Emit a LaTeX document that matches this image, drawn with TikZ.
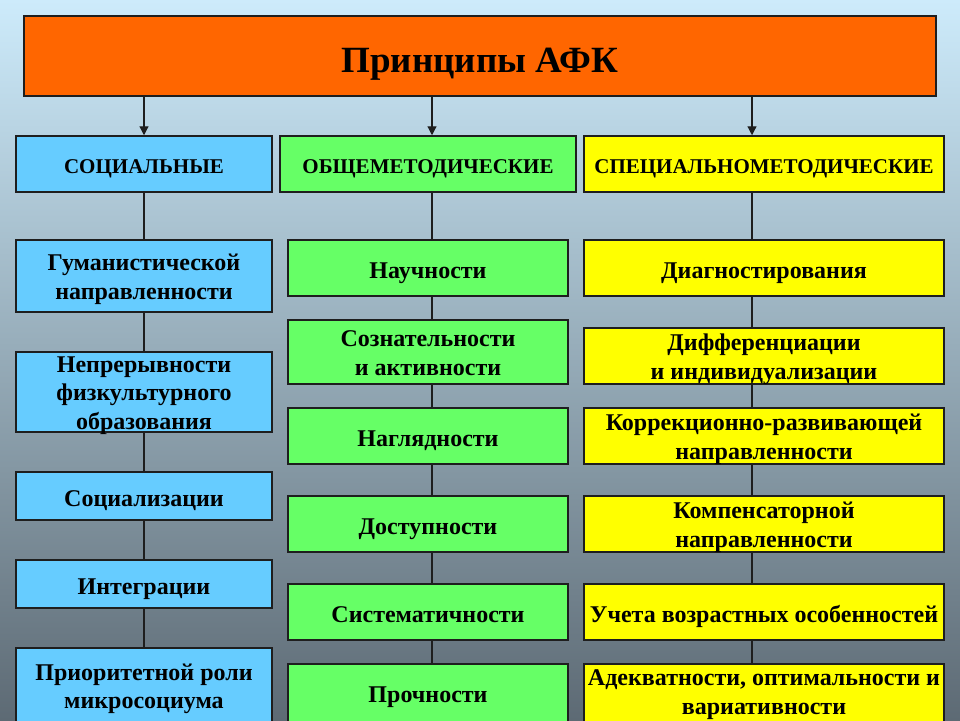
\documentclass[tikz,border=0pt]{standalone}
\usepackage{fontspec}
\setmainfont{Liberation Serif}
\usetikzlibrary{arrows.meta}
\definecolor{bt}{HTML}{CDEBFB}
\definecolor{bm}{HTML}{A8BBC7}
\definecolor{bb}{HTML}{5D6A74}
\definecolor{or}{HTML}{FF6600}
\definecolor{bl}{HTML}{66CCFF}
\definecolor{gr}{HTML}{66FF66}
\definecolor{ye}{HTML}{FFFF00}
\definecolor{ln}{HTML}{1E1E1E}

\begin{document}
\begin{tikzpicture}[x=1pt, y=-1pt,
  box/.style = {draw=ln, line width=1.5pt, align=center, inner sep=0pt, text depth=-6pt,
                font=\bfseries\fontsize{24}{28.5}\selectfont},
  one/.style = {text height=21pt, text depth=0pt},
  two/.style = {text height=46pt, text depth=0pt},
  head/.style = {box, minimum height=56pt, text height=18pt, text depth=0pt,
                 font=\bfseries\fontsize{21}{25}\selectfont},
  soc/.style = {box, fill=bl, minimum width=256pt},
  gen/.style = {box, fill=gr, minimum width=280pt},
  spc/.style = {box, fill=ye, minimum width=360pt},
  wire/.style = {draw=ln, line width=1.2pt}]

  \useasboundingbox (0,0) rectangle (960,720);
  \clip (0,0) rectangle (960,720);
  \shade[top color=bt, middle color=bm, bottom color=bb] (0,0) rectangle (960,720);

  % column axes
  \coordinate (cs) at (144,0);
  \coordinate (cm) at (432,0);
  \coordinate (cr) at (752,0);

  % title
  \node[box, fill=or, minimum width=912pt, minimum height=80pt, text height=32pt, text depth=0pt,
        font=\bfseries\fontsize{37}{40}\selectfont] (title) at (480,56) {Принципы АФК};

  % headers
  \node[head, fill=bl, minimum width=256pt] (hs) at (144,164) {СОЦИАЛЬНЫЕ};
  \node[head, fill=gr, minimum width=296pt] (hm) at (428,164) {ОБЩЕМЕТОДИЧЕСКИЕ};
  \node[head, fill=ye, minimum width=360pt] (hr) at (764,164) {СПЕЦИАЛЬНОМЕТОДИЧЕСКИЕ};

  % social
  \node[soc, two, minimum height=72pt] (s1) at (144,276) {Гуманистической\\направленности};
  \node[soc, minimum height=80pt, text height=74pt, text depth=0pt] (s2) at (144,392) {Непрерывности\\физкультурного\\образования};
  \node[soc, one, minimum height=48pt] (s3) at (144,496) {Социализации};
  \node[soc, one, minimum height=48pt] (s4) at (144,584) {Интеграции};
  \node[soc, minimum height=78pt, text depth=2pt] (s5) at (144,687) {Приоритетной роли\\микросоциума};

  % general
  \node[gen, one, minimum height=56pt] (m1) at (428,268) {Научности};
  \node[gen, two, minimum height=64pt] (m2) at (428,352) {Сознательности\\и активности};
  \node[gen, one, minimum height=56pt] (m3) at (428,436) {Наглядности};
  \node[gen, one, minimum height=56pt] (m4) at (428,524) {Доступности};
  \node[gen, one, minimum height=56pt] (m5) at (428,612) {Систематичности};
  \node[gen, minimum height=62pt, text height=20pt, text depth=6pt] (m6) at (428,695) {Прочности};

  % special
  \node[spc, one, minimum height=56pt] (r1) at (764,268) {Диагностирования};
  \node[spc, two, minimum height=56pt] (r2) at (764,356) {Дифференциации\\и индивидуализации};
  \node[spc, two, minimum height=56pt] (r3) at (764,436) {Коррекционно-развивающей\\направленности};
  \node[spc, two, minimum height=56pt] (r4) at (764,524) {Компенсаторной\\направленности};
  \node[spc, one, minimum height=56pt] (r5) at (764,612) {Учета возрастных особенностей};
  \node[spc, minimum height=62pt, text depth=6pt] (r6) at (764,695) {Адекватности, оптимальности и\\вариативности};

  % arrows from title
  \foreach \h/\c in {hs/cs, hm/cm, hr/cr}
    \draw[wire, -{Triangle[length=9pt, width=9pt]}] (title.south -| \c) -- (\h.north -| \c);

  % column lines
  \foreach \a/\b in {hs/s1, s1/s2, s2/s3, s3/s4, s4/s5}
    \draw[wire] (\a.south -| cs) -- (\b.north -| cs);
  \foreach \a/\b in {hm/m1, m1/m2, m2/m3, m3/m4, m4/m5, m5/m6}
    \draw[wire] (\a.south -| cm) -- (\b.north -| cm);
  \foreach \a/\b in {hr/r1, r1/r2, r2/r3, r3/r4, r4/r5, r5/r6}
    \draw[wire] (\a.south -| cr) -- (\b.north -| cr);
\end{tikzpicture}
\end{document}
